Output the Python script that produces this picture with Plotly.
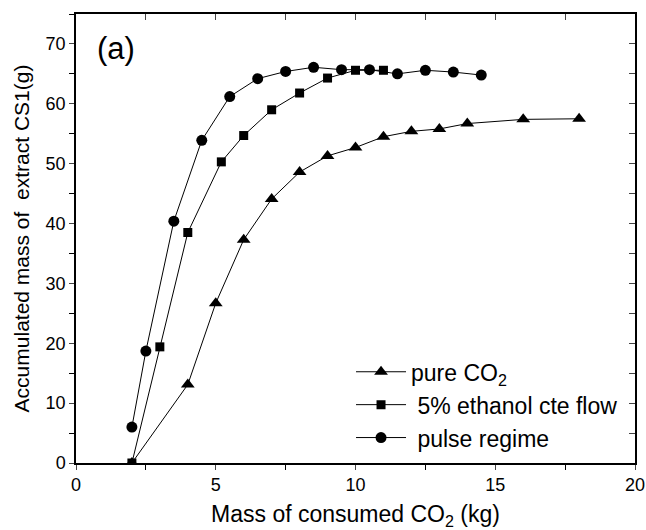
import plotly.graph_objects as go

# pure CO2
x_pure = [2, 4, 5, 6, 7, 8, 9, 10, 11, 12, 13, 14, 16, 18]
y_pure = [0, 13.1, 26.7, 37.3, 44.1, 48.6, 51.3, 52.7, 54.5, 55.4, 55.8, 56.7, 57.4, 57.5]

# 5% ethanol cte flow
x_eth = [2, 3, 4, 5.2, 6, 7, 8, 9, 10, 11]
y_eth = [0, 19.4, 38.5, 50.3, 54.7, 59.0, 61.8, 64.3, 65.6, 65.6]

# pulse regime
x_pulse = [2, 2.5, 3.5, 4.5, 5.5, 6.5, 7.5, 8.5, 9.5, 10.5, 11.5, 12.5, 13.5, 14.5]
y_pulse = [6.0, 18.7, 40.4, 53.9, 61.2, 64.2, 65.4, 66.1, 65.7, 65.7, 65.0, 65.6, 65.3, 64.8]

FONT = "Liberation Sans, Arial, sans-serif"

fig = go.Figure()
fig.add_trace(go.Scatter(x=x_pure, y=y_pure, mode="lines+markers", name="pure CO<sub>2</sub>",
                         line=dict(color="black", width=1),
                         marker=dict(symbol="triangle-up", size=12, color="black")))
fig.add_trace(go.Scatter(x=x_eth, y=y_eth, mode="lines+markers", name=" 5% ethanol cte flow",
                         line=dict(color="black", width=1),
                         marker=dict(symbol="square", size=9, color="black")))
fig.add_trace(go.Scatter(x=x_pulse, y=y_pulse, mode="lines+markers", name=" pulse regime",
                         line=dict(color="black", width=1),
                         marker=dict(symbol="circle", size=11, color="black")))
# helper invisible trace to anchor mirror axes
fig.add_trace(go.Scatter(x=[0], y=[0], xaxis="x2", yaxis="y2", mode="markers",
                         marker=dict(opacity=0), showlegend=False, hoverinfo="skip"))

fig.update_layout(
    width=646, height=530,
    margin=dict(l=76, r=11, t=14, b=67),
    paper_bgcolor="white", plot_bgcolor="white",
    font=dict(family=FONT, size=18, color="black"),
    showlegend=True,
    legend=dict(x=0.492, y=0.251, xanchor="left", yanchor="top",
                bgcolor="rgba(0,0,0,0)", font=dict(size=23, family=FONT),
                itemwidth=50, tracegroupgap=0),
    xaxis=dict(range=[0, 20], dtick=5, tick0=0, ticks="outside", ticklen=5, tickwidth=1.2,
               showline=True, linecolor="black", linewidth=1.5, showgrid=False, zeroline=False,
               automargin=False,
               minor=dict(dtick=2.5, ticks="outside", ticklen=5, tickwidth=1.2, tickcolor="black", showgrid=False),
               tickfont=dict(size=18, family=FONT),
               title=dict(text="Mass of consumed CO<sub>2</sub> (kg)", font=dict(size=23, family=FONT), standoff=14)),
    yaxis=dict(range=[0, 75], dtick=10, tick0=0, ticks="outside", ticklen=5, tickwidth=1.2,
               showline=True, linecolor="black", linewidth=1.5, showgrid=False, zeroline=False,
               automargin=False,
               minor=dict(dtick=5, ticks="outside", ticklen=5, tickwidth=1.2, tickcolor="black", showgrid=False),
               tickfont=dict(size=18, family=FONT),
               title=dict(text="Accumulated mass of  extract CS1(g)", font=dict(size=21, family=FONT), standoff=10)),
    xaxis2=dict(range=[0, 20], overlaying="x", side="top", dtick=2.5, tick0=0, ticks="inside",
                ticklen=6, tickwidth=1.2, showticklabels=False, showline=True, linecolor="black",
                linewidth=1.5, showgrid=False, zeroline=False, automargin=False),
    yaxis2=dict(range=[0, 75], overlaying="y", side="right", dtick=5, tick0=0, ticks="inside",
                ticklen=6, tickwidth=1.2, showticklabels=False, showline=True, linecolor="black",
                linewidth=1.5, showgrid=False, zeroline=False, automargin=False),
    annotations=[dict(text="(a)", x=0.034, y=0.924, xref="paper", yref="paper", xanchor="left",
                      yanchor="middle", showarrow=False, font=dict(size=31, family=FONT))],
)

fig.write_html("out.html", config={"displayModeBar": False},
               post_script="document.body.style.margin='0';document.body.style.overflow='hidden';")
